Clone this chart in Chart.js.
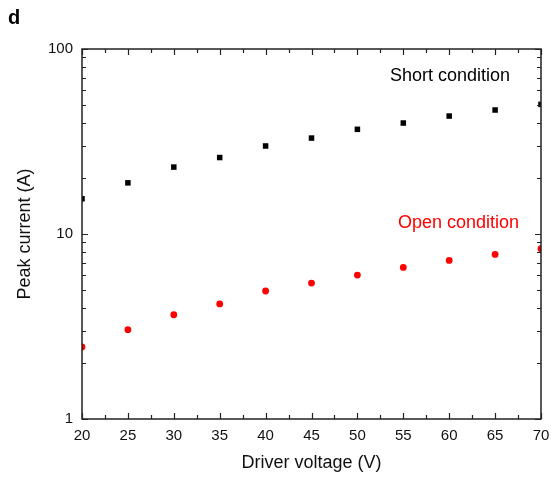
<!DOCTYPE html>
<html>
<head>
<meta charset="utf-8">
<script src="https://cdn.jsdelivr.net/npm/chart.js@4/dist/chart.umd.min.js"></script>
<style>
    html, body { margin: 0; padding: 0; background: #fff; }
    #wrap { position: relative; width: 551px; height: 478px; }
</style>
</head>
<body>
<div id="wrap"><canvas id="peakChart" width="551" height="478"></canvas></div>
<script>
// Data
const voltages = [20, 25, 30, 35, 40, 45, 50, 55, 60, 65, 70];
const shortCurrent = [15.5, 18.9, 23.0, 25.9, 29.9, 33.0, 36.8, 39.8, 43.4, 46.8, 50.2];
const openCurrent = [2.45, 3.04, 3.66, 4.19, 4.92, 5.43, 6.0, 6.6, 7.2, 7.76, 8.33];
const xTicks = [20, 25, 30, 35, 40, 45, 50, 55, 60, 65, 70];
const yTicks = [1, 10, 100];

const FONT = "'Liberation Sans', Arial, sans-serif";
const AXIS_COLOR = '#222';

// Frame with inward ticks on all four sides, plus panel letter and labels
const framePlugin = {
    id: 'frame',
    afterDatasetsDraw(chart) {
        const { ctx, chartArea: a, scales: { x, y } } = chart;
        ctx.save();
        ctx.strokeStyle = AXIS_COLOR;
        ctx.lineWidth = 1.5;
        ctx.strokeRect(a.left, a.top, a.right - a.left, a.bottom - a.top);

        ctx.lineWidth = 1.2;
        ctx.beginPath();
        // x ticks (major every 5, minor in between)
        for (let v = xTicks[0]; v <= xTicks[xTicks.length - 1] + 0.01; v += 2.5) {
            const px = Math.round(x.getPixelForValue(v)) + 0.5;
            const len = (v % 5 === 0) ? 6 : 4;
            ctx.moveTo(px, a.bottom); ctx.lineTo(px, a.bottom - len);
            ctx.moveTo(px, a.top); ctx.lineTo(px, a.top + len);
        }
        // y ticks (decades major, 2..9 minor)
        for (let d = 1; d < 100; d *= 10) {
            for (let m = 1; m <= 10; m++) {
                const v = d * m;
                const py = Math.round(y.getPixelForValue(v)) + 0.5;
                const len = (m === 1 || m === 10) ? 6 : 4;
                ctx.moveTo(a.left, py); ctx.lineTo(a.left + len, py);
                ctx.moveTo(a.right, py); ctx.lineTo(a.right - len, py);
            }
        }
        ctx.stroke();

        // panel letter
        ctx.fillStyle = '#000';
        ctx.font = `bold 20px ${FONT}`;
        ctx.textBaseline = 'alphabetic';
        ctx.textAlign = 'left';
        ctx.fillText('d', 8, 24);

        // series labels
        ctx.font = `18px ${FONT}`;
        ctx.textBaseline = 'middle';
        ctx.fillStyle = '#000';
        ctx.fillText('Short condition', 390, 76);
        ctx.fillStyle = '#ff0000';
        ctx.fillText('Open condition', 398, 223);
        ctx.restore();
    }
};

new Chart(document.getElementById('peakChart'), {
    type: 'scatter',
    data: {
        datasets: [
            {
                label: 'Short condition',
                data: voltages.map((v, i) => ({ x: v, y: shortCurrent[i] })),
                pointStyle: 'rect',
                pointRadius: 3.9,
                backgroundColor: '#000',
                borderColor: '#000',
                borderWidth: 0
            },
            {
                label: 'Open condition',
                data: voltages.map((v, i) => ({ x: v, y: openCurrent[i] })),
                pointStyle: 'circle',
                pointRadius: 3.4,
                backgroundColor: '#ff0000',
                borderColor: '#ff0000',
                borderWidth: 0
            }
        ]
    },
    options: {
        responsive: false,
        animation: false,
        layout: { padding: { top: 49, right: 10, left: 0, bottom: 0 } },
        plugins: {
            legend: { display: false },
            tooltip: { enabled: false }
        },
        scales: {
            x: {
                type: 'linear',
                min: 20,
                max: 70,
                afterBuildTicks: s => { s.ticks = xTicks.map(v => ({ value: v })); },
                afterFit: s => { s.height = 59; s.paddingLeft = 0; s.paddingRight = 0; },
                grid: { display: false, drawTicks: false },
                border: { display: false },
                ticks: { color: '#111', padding: 8, font: { family: FONT, size: 15 } },
                title: {
                    display: true,
                    text: 'Driver voltage (V)',
                    color: '#111',
                    font: { family: FONT, size: 18 },
                    padding: { top: 0, bottom: 4 }
                }
            },
            y: {
                type: 'logarithmic',
                min: 1,
                max: 100,
                afterBuildTicks: s => { s.ticks = yTicks.map(v => ({ value: v })); },
                afterFit: s => { s.width = 82; s.paddingTop = 0; s.paddingBottom = 0; },
                grid: { display: false, drawTicks: false },
                border: { display: false },
                ticks: { color: '#111', padding: 9, font: { family: FONT, size: 15 }, callback: v => String(v) },
                title: {
                    display: true,
                    text: 'Peak current (A)',
                    color: '#111',
                    font: { family: FONT, size: 18 },
                    padding: { top: 14, bottom: 0 }
                }
            }
        }
    },
    plugins: [framePlugin]
});
</script>
</body>
</html>
